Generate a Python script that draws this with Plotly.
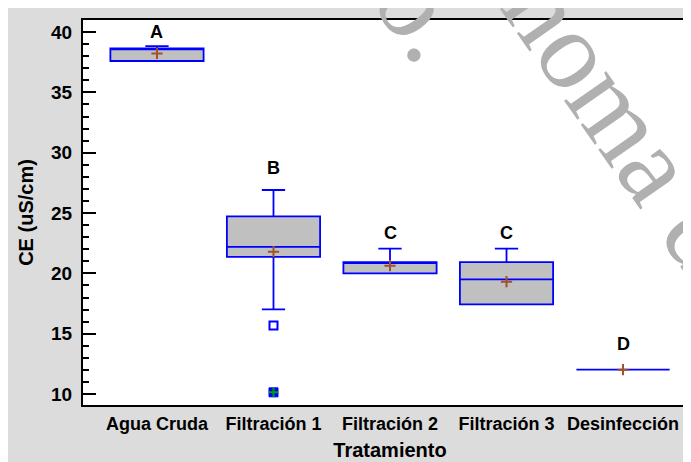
import plotly.graph_objects as go

# ---- data ----
categories = ["Agua Cruda", "Filtración 1", "Filtración 2", "Filtración 3", "Desinfección"]
q1 = [37.6, 21.36, 20.0, 17.43, 12.02]
median = [38.65, 22.19, 20.94, 19.51, 12.02]
q3 = [38.65, 24.73, 20.94, 20.94, 12.02]
lower_fence = [37.6, 17.02, 20.0, 17.43, 12.02]
upper_fence = [38.84, 26.91, 22.05, 22.05, 12.02]
means = [38.23, 21.8, 20.64, 19.31, 12.02]
outlier_cat = ["Filtración 1"]
outlier_val = [15.67]
far_outlier_cat = ["Filtración 1"]
far_outlier_val = [10.14]
group_letters = ["A", "B", "C", "C", "D"]
letter_y = [40.0, 28.7, 23.35, 23.35, 14.15]
y_title = "CE (uS/cm)"
x_title = "Tratamiento"

BLUE = "#0000ff"
FONT = "Liberation Sans, Arial, sans-serif"

fig = go.Figure()
for i, c in enumerate(categories):
    fig.add_trace(go.Box(
        x=[c], q1=[q1[i]], median=[median[i]], q3=[q3[i]],
        lowerfence=[lower_fence[i]], upperfence=[upper_fence[i]],
        boxpoints=False, fillcolor="#c0c0c0",
        line=dict(color=BLUE, width=1.8), whiskerwidth=0.25,
        width=0.8, showlegend=False, hoverinfo="skip"))

fig.add_trace(go.Scatter(x=categories, y=means, mode="markers",
                         marker=dict(symbol="cross-thin", size=8,
                                     line=dict(color="#a0522d", width=2)),
                         showlegend=False))
fig.add_trace(go.Scatter(x=outlier_cat, y=outlier_val, mode="markers",
                         marker=dict(symbol="square-open", size=8,
                                     line=dict(color=BLUE, width=2), color=BLUE),
                         showlegend=False))
fig.add_trace(go.Scatter(x=far_outlier_cat, y=far_outlier_val, mode="markers",
                         marker=dict(symbol="square", size=9, color=BLUE,
                                     line=dict(color=BLUE, width=1)),
                         showlegend=False))
fig.add_trace(go.Scatter(x=far_outlier_cat, y=far_outlier_val, mode="markers",
                         marker=dict(symbol="cross-thin", size=7,
                                     line=dict(color="#00a000", width=2)),
                         showlegend=False))

annotations = []
for c, t, yv in zip(categories, group_letters, letter_y):
    annotations.append(dict(x=c, y=yv, text=t, showarrow=False, xref="x", yref="y",
                            font=dict(family=FONT, size=18, color="black", weight="bold")))

# watermark
WM = dict(family="Liberation Serif, Times New Roman, serif", size=112, color="#b0b0b0")
annotations.append(dict(x=0.9064, y=0.683, xref="paper", yref="paper", text="noma de",
                        textangle=55, showarrow=False, font=WM,
                        xanchor="center", yanchor="middle"))
annotations.append(dict(x=0.5338, y=1.071, xref="paper", yref="paper", text="co.",
                        textangle=55, showarrow=False, font=WM,
                        xanchor="center", yanchor="middle"))

fig.update_layout(
    width=691, height=462,
    margin=dict(l=75, r=2, t=12, b=65, autoexpand=False),
    paper_bgcolor="#dcdcdc", plot_bgcolor="white",
    showlegend=False,
    font=dict(family=FONT, color="black"),
    annotations=annotations,
    xaxis=dict(type="category", range=[-0.635, 4.635], showline=True, linewidth=2,
               linecolor="black", mirror=True, ticks="", showgrid=False, zeroline=False,
               automargin=False, ticklabelstandoff=1,
               tickfont=dict(size=18, weight="bold"),
               title=dict(text=x_title, font=dict(size=20, weight="bold"), standoff=10)),
    yaxis=dict(range=[9.09, 41.0], dtick=5, tick0=10, ticks="inside", ticklen=13, tickwidth=2,
               tickcolor="black", showline=True, linewidth=2, linecolor="black",
               mirror="ticks",
               showgrid=False, zeroline=False, ticklabelstandoff=5, automargin=False,
               tickfont=dict(size=19, weight="bold"),
               minor=dict(dtick=1, ticks="inside", ticklen=6, tickwidth=2, tickcolor="black",
                          showgrid=False),
               title=dict(text=y_title, font=dict(size=20, weight="bold"), standoff=12)),
)

fig.write_html("out.html")
